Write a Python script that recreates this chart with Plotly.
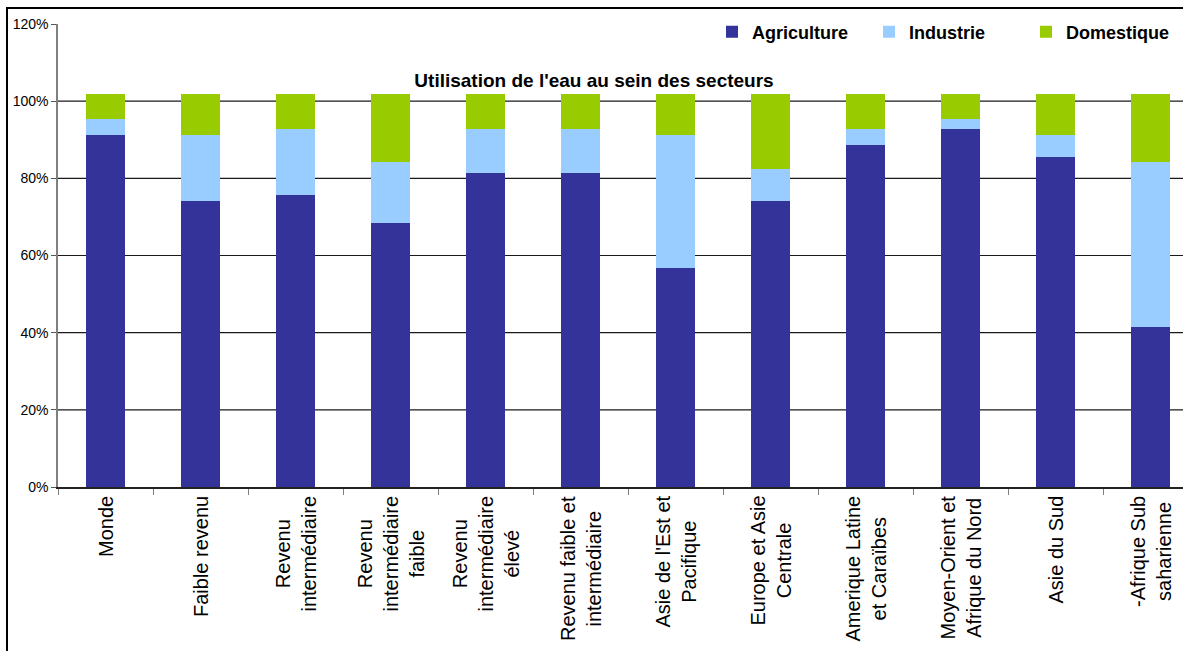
import plotly.graph_objects as go

# Water use by sector (% of withdrawals)
categories = [
    "Monde",
    "Faible revenu",
    "Revenu<br>intermédiaire",
    "Revenu<br>intermédiaire<br>faible",
    "Revenu<br>intermédiaire<br>élevé",
    "Revenu faible et<br>intermédiaire",
    "Asie de l'Est et<br>Pacifique",
    "Europe et Asie<br>Centrale",
    "Amerique Latine<br>et Caraïbes",
    "Moyen-Orient et<br>Afrique du Nord",
    "Asie du Sud",
    "-Afrique Sub<br>saharienne",
]
agriculture = [91.2, 74.1, 75.6, 68.3, 81.3, 81.3, 56.7, 74.0, 88.6, 92.9, 85.6, 41.5]
industrie = [4.1, 17.1, 17.1, 16.0, 11.4, 11.4, 34.5, 8.5, 4.1, 2.4, 5.6, 42.8]
domestique = [6.5, 10.6, 9.1, 17.5, 9.1, 9.1, 10.6, 19.3, 9.1, 6.5, 10.6, 17.5]

y_ticks = [0, 20, 40, 60, 80, 100, 120]
y_tick_text = ["0%", "20%", "40%", "60%", "80%", "100%", "120%"]
grid_values = [20, 40, 60, 80, 100]

series = [
    ("Agriculture", agriculture, "#333399"),
    ("Industrie", industrie, "#99CCFF"),
    ("Domestique", domestique, "#99CC00"),
]

FONT = "Liberation Sans, Arial, sans-serif"

fig = go.Figure()
for name, vals, color in series:
    fig.add_trace(go.Bar(
        name=name, x=categories, y=vals,
        marker=dict(color=color, line=dict(width=0)),
    ))

# horizontal gridlines (none at the top of the range)
for g in grid_values:
    fig.add_hline(y=g, line=dict(color="#1a1a1a", width=1.2), layer="below")

# category labels, rotated with centred lines
for c in categories:
    fig.add_annotation(
        x=c, xref="x", y=0, yref="paper", yanchor="top", xanchor="center",
        yshift=-7, text=c, textangle=-90, align="center", showarrow=False,
        font=dict(family=FONT, size=20, color="#000000"),
    )

# outer chart frame
fig.add_shape(type="rect", xref="paper", yref="paper",
              x0=-51 / 1125, x1=1.2, y0=-0.6, y1=1 + 16 / 463,
              line=dict(color="#000000", width=2), fillcolor="rgba(0,0,0,0)",
              layer="below")

fig.update_layout(
    width=1183, height=651,
    barmode="stack", bargap=0.58,
    plot_bgcolor="#ffffff", paper_bgcolor="#ffffff",
    margin=dict(l=58, r=0, t=24, b=164, autoexpand=False),
    font=dict(family=FONT, color="#000000"),
    title=dict(
        text="<b>Utilisation de l'eau au sein des secteurs</b>",
        x=594 / 1183, xref="container", xanchor="center",
        y=1 - 80 / 651, yref="container", yanchor="middle",
        font=dict(family=FONT, size=19, color="#000000"),
    ),
    legend=dict(
        orientation="h", x=1, xanchor="right", y=1 - 32 / 651,
        yref="container", yanchor="middle",
        font=dict(family=FONT, size=18, color="#000000", weight="bold"),
        traceorder="normal", entrywidth=112,
        bgcolor="rgba(0,0,0,0)",
    ),
    showlegend=True,
)

fig.update_xaxes(
    range=[-0.5, 11.5 - 15 / 95], showticklabels=False,
    ticks="outside", tickson="boundaries", ticklen=6, tickcolor="#808080",
    showline=True, linecolor="#222222", linewidth=1.5, showgrid=False,
)
fig.update_yaxes(
    range=[0, 120], tickvals=y_ticks, ticktext=y_tick_text,
    ticks="outside", ticklen=5, tickcolor="#555555",
    showline=True, linecolor="#808080", linewidth=1.5, showgrid=False,
    zeroline=False, tickfont=dict(family=FONT, size=14, color="#000000"),
)

fig.write_html("out.html")
